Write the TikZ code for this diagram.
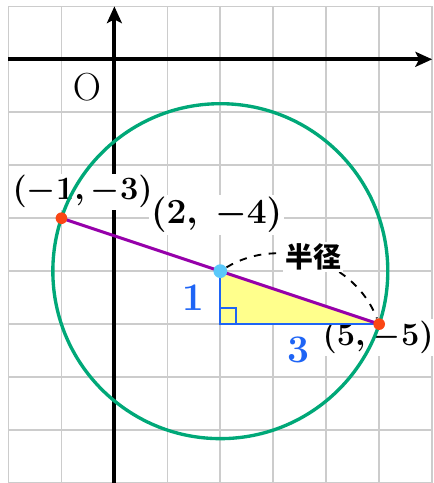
\RequirePackage{fix-cm}
\documentclass[tikz,border=0pt]{standalone}
\usepackage{amsmath}
\usepackage[no-math]{fontspec}
\newfontfamily\cjk{Noto Sans CJK JP}
\usetikzlibrary{arrows.meta}
\definecolor{circgreen}{RGB}{0,168,120}
\definecolor{segpurple}{RGB}{150,0,170}
\definecolor{lenblue}{RGB}{30,100,245}
\definecolor{tryellow}{RGB}{255,255,140}
\definecolor{ptred}{RGB}{250,70,20}
\definecolor{ctrblue}{RGB}{90,200,250}

\begin{document}
\begin{tikzpicture}[
  gridline/.style={draw=gray!40, line width=0.9pt},
  axis/.style={-{Stealth[length=9pt, width=8pt, inset=2pt]}, line width=2.2pt},
  dot/.style={circle, inner sep=0pt, minimum size=#1},
  ptlabel/.style={fill=white, inner sep=1pt, font=\fontsize{#1}{#1}\selectfont\boldmath},
  lenlabel/.style={lenblue, font=\fontsize{21}{25}\selectfont}
]
\useasboundingbox (-2.16,-8.0) rectangle (6.02,1.12);

%% Grid and axes
\draw[gridline] (-2,-8) grid (6,1);
\coordinate (xl) at (-2,0);
\coordinate (xr) at (6,0);
\coordinate (yb) at (0,-8);
\coordinate (yt) at (0,1);
\draw[axis] (xl) -- (xr);
\draw[axis] (yb) -- (yt);
\node[font=\fontsize{21}{25}\selectfont] (orig) at (-0.52,-0.52) {$\mathrm{O}$};

%% Coordinates (drawn under the circle)
\node[ptlabel=17.5] (lA) at (-0.6,-2.5)  {$(-1,-3)$};
\node[ptlabel=19]   (lC) at (1.93,-2.94) {$(2,\ -4)$};
\node[ptlabel=17.5] (lB) at (4.98,-5.25) {$(5,-5)$};

%% Circle, centre (2,-4), radius sqrt(10)
\coordinate (C) at (2,-4);
\coordinate (A) at (-1,-3);
\coordinate (B) at (5,-5);
\coordinate (H) at (2,-5);
\draw[circgreen, line width=1.8pt] (C) circle ({sqrt(10)});

%% Right triangle
\fill[tryellow] (C) -- (H) -- (B) -- cycle;
\draw[lenblue, line width=1.1pt] (C) -- (H) -- (B);
\draw[lenblue, line width=1.1pt] (H) ++(0,0.3) -- ++(0.3,0) -- ++(0,-0.3);
\node[lenlabel] (one)   at (1.48,-4.51) {$\mathbf{1}$};
\node[lenlabel] (three) at (3.47,-5.49) {$\mathbf{3}$};

%% Diameter
\draw[segpurple, line width=1.6pt] (A) -- (B);

%% Points
\node[dot=0.22cm, fill=ptred]   (pA) at (A) {};
\node[dot=0.22cm, fill=ptred]   (pB) at (B) {};
\node[dot=0.26cm, fill=ctrblue] (pC) at (C) {};

%% Radius arc
\draw[dash pattern=on 4pt off 4pt, line width=1pt] (pC) to[bend left=50]
  node[fill=white, inner sep=1pt, yshift=1pt,
       font=\cjk\bfseries\fontsize{15}{17}\selectfont] (rad) {半径} (pB);
\end{tikzpicture}
\end{document}
